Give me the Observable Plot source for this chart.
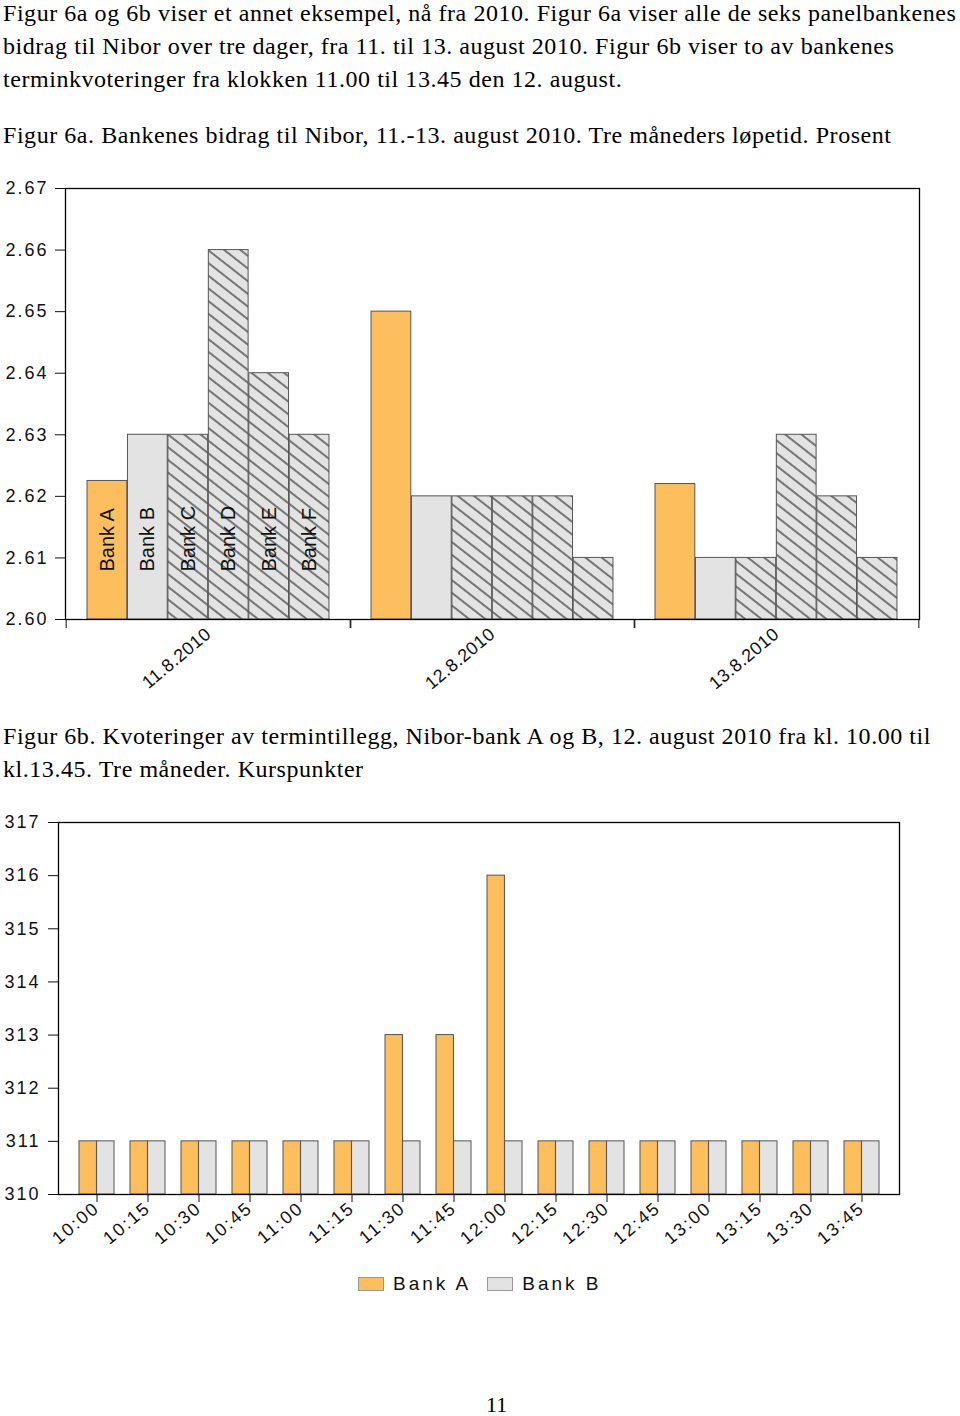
<!DOCTYPE html>
<html><head><meta charset="utf-8">
<script src="https://cdn.jsdelivr.net/npm/d3@7"></script>
<script src="https://cdn.jsdelivr.net/npm/@observablehq/plot@0.6"></script>
<style>
body{margin:0;background:#fff;width:960px;height:1416px;position:relative;overflow:hidden}
.serif{position:absolute;left:3px;font-family:"Liberation Serif","Times New Roman",serif;font-size:24px;letter-spacing:0.55px;line-height:33px;color:#000;white-space:nowrap}
#c1,#c2{position:absolute;left:0}
#c1{top:170px}
#c2{top:805px}
#c1 g[aria-label="y-axis tick label"] text,#c2 g[aria-label="y-axis tick label"] text{letter-spacing:2px}
#c2 g[aria-label="x-axis tick label"] text{letter-spacing:2px}
#c1 g[aria-label="x-axis tick label"] text{letter-spacing:0.5px}
#legend{position:absolute;top:1273px;left:358px;display:flex;align-items:center;font-family:"Liberation Sans",Arial,sans-serif;font-size:19px;letter-spacing:3px;color:#111}
#legend .sw{width:26px;height:14px;border:1px solid #999;box-sizing:border-box;margin-right:9px}
#legend .it{display:flex;align-items:center;margin-right:16px}
#page{position:absolute;top:1392px;left:486px;font-family:"Liberation Serif",serif;font-size:22px}
</style></head>
<body>
<div class="serif" style="top:-3px">Figur 6a og 6b viser et annet eksempel, nå fra 2010. Figur 6a viser alle de seks panelbankenes</div>
<div class="serif" style="top:30px">bidrag til Nibor over tre dager, fra 11. til 13. august 2010. Figur 6b viser to av bankenes</div>
<div class="serif" style="top:63px">terminkvoteringer fra klokken 11.00 til 13.45 den 12. august.</div>
<div class="serif" style="top:119px">Figur 6a. Bankenes bidrag til Nibor, 11.-13. august 2010. Tre måneders løpetid. Prosent</div>
<div id="c1"></div>
<div class="serif" style="top:720px">Figur 6b. Kvoteringer av termintillegg, Nibor-bank A og B, 12. august 2010 fra kl. 10.00 til</div>
<div class="serif" style="top:753px">kl.13.45. Tre måneder. Kurspunkter</div>
<div id="c2"></div>
<div id="legend"></div>
<div id="page">11</div>
<script>
// ---- Figure 6a data ----
const days = ["11.8.2010", "12.8.2010", "13.8.2010"];
const banks = ["Bank A", "Bank B", "Bank C", "Bank D", "Bank E", "Bank F"];
const nibor11 = [2.6225, 2.63, 2.63, 2.66, 2.64, 2.63];
const nibor12 = [2.65, 2.62, 2.62, 2.62, 2.62, 2.61];
const nibor13 = [2.622, 2.61, 2.61, 2.63, 2.62, 2.61];
const niborTicks = [2.60, 2.61, 2.62, 2.63, 2.64, 2.65, 2.66, 2.67];

// ---- Figure 6b data ----
const times = ["10:00","10:15","10:30","10:45","11:00","11:15","11:30","11:45","12:00","12:15","12:30","12:45","13:00","13:15","13:30","13:45"];
const quoteBankA = [311,311,311,311,311,311,313,313,316,311,311,311,311,311,311,311];
const quoteBankB = [311,311,311,311,311,311,311,311,311,311,311,311,311,311,311,311];
const quoteTicks = [310,311,312,313,314,315,316,317];
const legendBanks = ["Bank A", "Bank B"];

// ---- styles ----
const ORANGE = "#FDBE5E", GRAY = "#E3E3E3";
const fontFam = "'Liberation Sans', Arial, sans-serif";

// ===== Chart 1 =====
const byDay = [nibor11, nibor12, nibor13];
const rows1 = days.flatMap((d, i) => banks.map((b, j) => ({day: d, bank: b, value: byDay[i][j]})));
const W = 960, ml1 = 65, mr1 = 41;
const bw1 = (W - ml1 - mr1) / days.length;
const barW = bw1 / (banks.length + 2 * 0.52);
const gap = (bw1 - banks.length * barW) / 2;
const yMin1 = niborTicks[0];

const c1 = Plot.plot({
  width: W, height: 530,
  marginLeft: ml1, marginRight: mr1, marginTop: 18, marginBottom: 81,
  style: {fontFamily: fontFam, fontSize: "18px", background: "white", color: "#111"},
  x: {type: "band", domain: days, padding: 0},
  y: {domain: [niborTicks[0], niborTicks[niborTicks.length - 1]]},
  color: {domain: banks, range: [ORANGE, GRAY, "url(#hatch)", "url(#hatch)", "url(#hatch)", "url(#hatch)"]},
  marks: [
    ...banks.map((b, j) => Plot.barY(rows1.filter(r => r.bank === b), {
      x: "day", y1: yMin1, y2: "value", fill: "bank", stroke: "#555", strokeWidth: 1,
      insetLeft: gap + j * barW, insetRight: gap + (banks.length - 1 - j) * barW
    })),
    ...banks.map((b, j) => Plot.text(rows1.filter(r => r.bank === b && r.day === days[0]), {
      x: "day", y: yMin1, text: "bank", rotate: -90, textAnchor: "start",
      dx: -bw1 / 2 + gap + (j + 0.5) * barW, dy: -48, fontSize: 20, fill: "#111"
    })),
    Plot.frame({stroke: "#000", strokeWidth: 1.3}),
    Plot.axisY({ticks: niborTicks, tickFormat: d3.format(".2f"), tickSize: 10, tickPadding: 7, fontSize: 18, label: null}),
    Plot.axisX({tickSize: 0, tickRotate: -40, tickPadding: 12, fontSize: 18, label: null}),
    Plot.axisX({tickSize: 9, tickFormat: () => "", dx: -bw1 / 2, label: null}),
    Plot.axisX({tickSize: 9, tickFormat: () => "", dx: bw1 / 2, label: null})
  ]
});
d3.select(c1).insert("defs", ":first-child").html(
  `<pattern id="hatch" patternUnits="userSpaceOnUse" width="10" height="10" patternTransform="rotate(38)">
     <rect width="10" height="10" fill="${GRAY}"/>
     <line x1="0" y1="5" x2="10" y2="5" stroke="#222" stroke-width="1.15"/>
   </pattern>`);
document.getElementById("c1").appendChild(c1);

// ===== Chart 2 =====
const rows2 = times.flatMap((t, i) => [
  {time: t, bank: legendBanks[0], value: quoteBankA[i]},
  {time: t, bank: legendBanks[1], value: quoteBankB[i]}
]);
const ml2 = 58, mr2 = 61, pIn = 0.32, pOut = 0.3;
const step2 = (W - ml2 - mr2) / (times.length - pIn + 2 * pOut);
const half2 = step2 * (1 - pIn) / 2;
const yMin2 = quoteTicks[0];

const c2 = Plot.plot({
  width: W, height: 450,
  marginLeft: ml2, marginRight: mr2, marginTop: 17, marginBottom: 61,
  style: {fontFamily: fontFam, fontSize: "18px", background: "white", color: "#111"},
  x: {type: "band", domain: times, paddingInner: pIn, paddingOuter: pOut},
  y: {domain: [quoteTicks[0], quoteTicks[quoteTicks.length - 1]]},
  color: {domain: legendBanks, range: [ORANGE, GRAY]},
  marks: [
    Plot.barY(rows2.filter(r => r.bank === legendBanks[0]), {x: "time", y1: yMin2, y2: "value", fill: "bank", stroke: "#555", strokeWidth: 1, insetRight: half2}),
    Plot.barY(rows2.filter(r => r.bank === legendBanks[1]), {x: "time", y1: yMin2, y2: "value", fill: "bank", stroke: "#555", strokeWidth: 1, insetLeft: half2}),
    Plot.frame({stroke: "#000", strokeWidth: 1.3}),
    Plot.axisY({ticks: quoteTicks, tickFormat: d3.format("d"), tickSize: 10, tickPadding: 8, fontSize: 18, label: null}),
    Plot.axisX({tickSize: 8, tickRotate: -40, tickPadding: 3, fontSize: 18, label: null})
  ]
});
document.getElementById("c2").appendChild(c2);

// legend
const legendColors = [ORANGE, GRAY];
const lg = d3.select("#legend");
legendBanks.forEach((b, i) => {
  const it = lg.append("div").attr("class", "it");
  it.append("div").attr("class", "sw").style("background", legendColors[i]);
  it.append("span").text(b);
});
</script>
</body></html>
